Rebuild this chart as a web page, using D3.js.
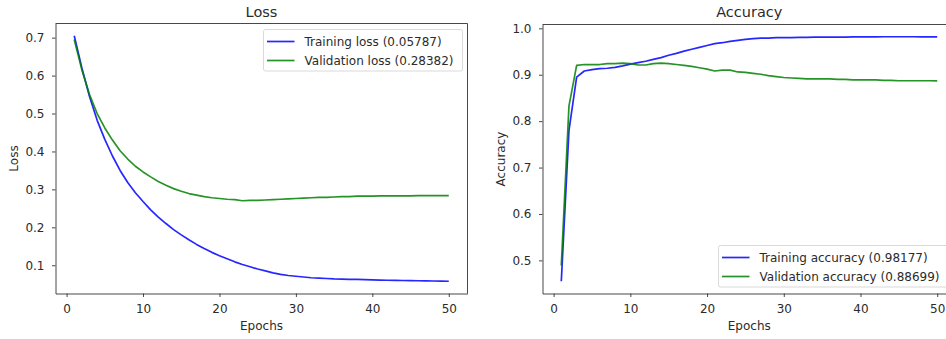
<!DOCTYPE html>
<html>
<head>
<meta charset="utf-8">
<script src="https://cdn.jsdelivr.net/npm/d3@7"></script>
<style>
  body { margin: 0; background: #fff; }
  text { font-family: "DejaVu Sans", sans-serif; fill: #2b2b2b; }
</style>
</head>
<body>
<script>
// epochs 1..50
var epochs = d3.range(1, 51);

var trainLoss = [0.705, 0.620, 0.545, 0.482, 0.432, 0.388, 0.350, 0.318, 0.291, 0.268,
                 0.246, 0.227, 0.210, 0.194, 0.180, 0.167, 0.155, 0.144, 0.134, 0.125,
                 0.117, 0.109, 0.102, 0.096, 0.090, 0.085, 0.080, 0.076, 0.073, 0.071,
                 0.069, 0.067, 0.066, 0.065, 0.064, 0.0635, 0.063, 0.0625, 0.062, 0.0615,
                 0.061, 0.0605, 0.0601, 0.0598, 0.0595, 0.0591, 0.0588, 0.0585, 0.0582, 0.05787];
var valLoss = [0.695, 0.615, 0.550, 0.500, 0.462, 0.430, 0.402, 0.380, 0.361, 0.346,
               0.333, 0.321, 0.311, 0.302, 0.295, 0.289, 0.285, 0.281, 0.278, 0.276,
               0.274, 0.273, 0.270, 0.271, 0.271, 0.272, 0.273, 0.274, 0.275, 0.276,
               0.277, 0.278, 0.279, 0.279, 0.280, 0.281, 0.281, 0.282, 0.282, 0.282,
               0.283, 0.283, 0.283, 0.283, 0.283, 0.2835, 0.2835, 0.2837, 0.2838, 0.28382];

var trainAcc = [0.455, 0.780, 0.895, 0.908, 0.911, 0.913, 0.914, 0.916, 0.919, 0.923,
                0.926, 0.929, 0.933, 0.937, 0.942, 0.946, 0.951, 0.955, 0.959, 0.963,
                0.967, 0.969, 0.972, 0.974, 0.976, 0.978, 0.979, 0.979, 0.980, 0.980,
                0.980, 0.9805, 0.9805, 0.981, 0.981, 0.981, 0.981, 0.9812, 0.9815, 0.9815,
                0.9815, 0.9817, 0.9818, 0.9818, 0.9818, 0.9818, 0.9819, 0.9816, 0.9817, 0.98177];
var valAcc = [0.489, 0.833, 0.920, 0.922, 0.922, 0.922, 0.924, 0.924, 0.925, 0.924,
              0.921, 0.921, 0.924, 0.925, 0.924, 0.922, 0.920, 0.918, 0.915, 0.912,
              0.908, 0.910, 0.910, 0.906, 0.905, 0.903, 0.901, 0.898, 0.896, 0.894,
              0.893, 0.892, 0.891, 0.891, 0.891, 0.891, 0.890, 0.890, 0.889, 0.889,
              0.889, 0.889, 0.888, 0.888, 0.887, 0.887, 0.887, 0.887, 0.887, 0.88699];

var xTicks = [0, 10, 20, 30, 40, 50];
var lossTicks = [0.1, 0.2, 0.3, 0.4, 0.5, 0.6, 0.7];
var accTicks = [0.5, 0.6, 0.7, 0.8, 0.9, 1.0];

var blue = "#0000ff", green = "#008000";
var fs = "12px";

var svg = d3.select("body").append("svg")
    .attr("width", 946)
    .attr("height", 339);

// matplotlib style 5% margins
function padded(vals) {
  var ext = d3.extent(vals);
  var m = (ext[1] - ext[0]) * 0.05;
  return [ext[0] - m, ext[1] + m];
}

function panel(opt) {
  var x = d3.scaleLinear().domain(padded(epochs)).range([opt.left, opt.right]);
  var y = d3.scaleLinear().domain(padded(opt.series[0].values.concat(opt.series[1].values)))
      .range([opt.bottom, opt.top]);

  var g = svg.append("g");

  // lines
  var line = d3.line()
      .x(function(d, i) { return x(epochs[i]); })
      .y(function(d) { return y(d); });
  opt.series.forEach(function(s) {
    g.append("path")
      .datum(s.values)
      .attr("d", line)
      .attr("fill", "none")
      .attr("stroke", s.color)
      .attr("stroke-width", 1.7)
      .attr("stroke-opacity", 0.85)
      .attr("stroke-linejoin", "round");
  });

  // axes
  var xAxis = g.append("g")
      .attr("transform", "translate(0," + opt.bottom + ")")
      .call(d3.axisBottom(x).tickValues(xTicks).tickSize(3.5).tickPadding(7.5).tickSizeOuter(0));
  var yAxis = g.append("g")
      .attr("transform", "translate(" + opt.left + ",0)")
      .call(d3.axisLeft(y).tickValues(opt.yTicks).tickFormat(d3.format(".1f"))
            .tickSize(3.5).tickPadding(7.5).tickSizeOuter(0));
  [xAxis, yAxis].forEach(function(a) {
    a.selectAll("text").style("font-family", "DejaVu Sans").style("font-size", fs).attr("fill", "#2b2b2b");
    a.selectAll("line").attr("stroke", "#333").attr("stroke-width", 0.9);
    a.select(".domain").attr("stroke", "#333").attr("stroke-width", 0.9);
  });

  // top and right spines
  g.append("line").attr("x1", opt.left).attr("x2", opt.right)
    .attr("y1", opt.top).attr("y2", opt.top).attr("stroke", "#333").attr("stroke-width", 0.9);
  g.append("line").attr("x1", opt.right).attr("x2", opt.right)
    .attr("y1", opt.top).attr("y2", opt.bottom).attr("stroke", "#333").attr("stroke-width", 0.9);

  // title + labels
  g.append("text")
    .attr("x", (opt.left + opt.right) / 2).attr("y", 17)
    .attr("text-anchor", "middle").style("font-size", "14.5px")
    .text(opt.title);
  g.append("text")
    .attr("x", (opt.left + opt.right) / 2).attr("y", 330)
    .attr("text-anchor", "middle").style("font-size", fs)
    .text("Epochs");
  g.append("text")
    .attr("transform", "translate(" + opt.ylabelX + "," + ((opt.top + opt.bottom) / 2) + ") rotate(-90)")
    .attr("text-anchor", "middle").style("font-size", fs)
    .text(opt.ylabel);

  // legend
  var lg = g.append("g").attr("transform", "translate(" + opt.legend[0] + "," + opt.legend[1] + ")");
  lg.append("rect")
    .attr("width", opt.legend[2]).attr("height", 41.5)
    .attr("rx", 2)
    .attr("fill", "#fff").attr("fill-opacity", 0.8)
    .attr("stroke", "#d9d9d9").attr("stroke-width", 1);
  opt.series.forEach(function(s, i) {
    var yy = 12 + i * 19;
    lg.append("line")
      .attr("x1", 3.5).attr("x2", 31).attr("y1", yy).attr("y2", yy)
      .attr("stroke", s.color).attr("stroke-width", 1.7).attr("stroke-opacity", 0.85);
    lg.append("text")
      .attr("x", 41).attr("y", yy + 4.3)
      .style("font-size", fs)
      .text(s.name + " (" + s.values[s.values.length - 1].toFixed(5) + ")");
  });
}

panel({
  left: 55.5, right: 467.5, top: 23.5, bottom: 293.5,
  title: "Loss", ylabel: "Loss", ylabelX: 17.5,
  yTicks: lossTicks,
  legend: [263.5, 29.5, 199],
  series: [
    { name: "Training loss", values: trainLoss, color: blue },
    { name: "Validation loss", values: valLoss, color: green }
  ]
});

panel({
  left: 542.5, right: 956, top: 24.5, bottom: 293.5,
  title: "Accuracy", ylabel: "Accuracy", ylabelX: 504.5,
  yTicks: accTicks,
  legend: [718.5, 245.5, 240],
  series: [
    { name: "Training accuracy", values: trainAcc, color: blue },
    { name: "Validation accuracy", values: valAcc, color: green }
  ]
});
</script>
</body>
</html>
